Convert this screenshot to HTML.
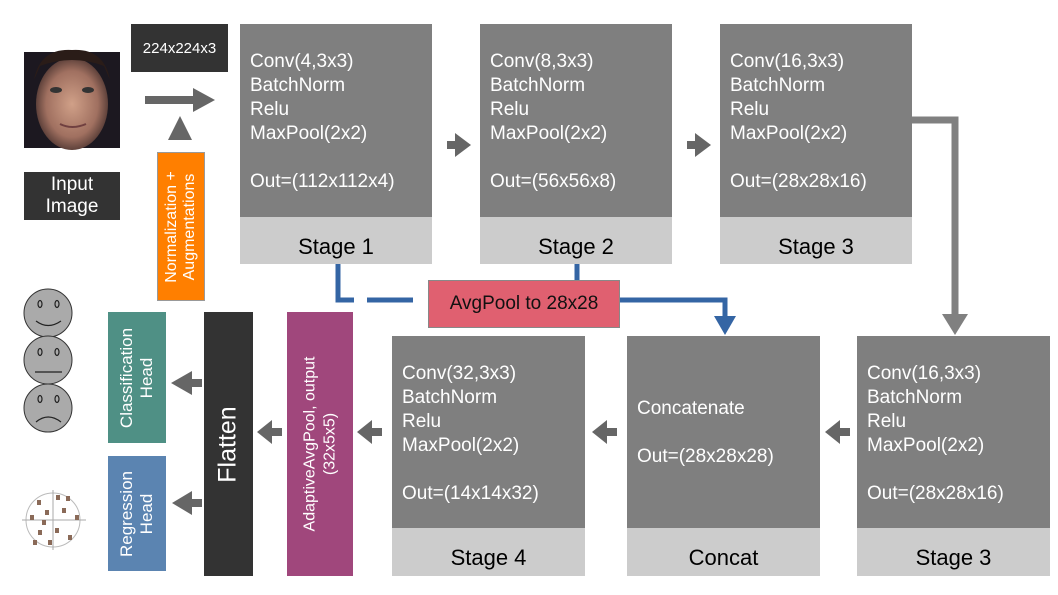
<!DOCTYPE html>
<html><head><meta charset="utf-8"><style>
body{margin:0;width:1058px;height:595px;background:#fff;position:relative;overflow:hidden;font-family:"Liberation Sans",sans-serif}
.a{position:absolute;box-sizing:border-box}
.st{background:#7f7f7f;color:#fff;font-size:19px;line-height:24px;padding:26px 0 0 10px}
.lb{background:#cccccc;color:#000;font-size:22px;text-align:center;line-height:47px;padding-top:6px}
.v{display:flex;align-items:center;justify-content:center;color:#fff;text-align:center}
.v span{transform:rotate(-90deg);white-space:nowrap}
</style></head><body>
<svg class="a" style="left:0;top:0" width="1058" height="595">
<defs><radialGradient id="f" cx="50%" cy="50%" r="60%"><stop offset="0" stop-color="#d0a088"/><stop offset="0.6" stop-color="#a07060"/><stop offset="1" stop-color="#302020"/></radialGradient></defs>
<rect x="24" y="52" width="96" height="96" fill="#1c1820"/>
<ellipse cx="72" cy="104" rx="36" ry="46" fill="url(#f)"/>
<path d="M34 80 Q40 48 72 50 Q104 48 110 80 L104 66 Q72 54 40 66Z" fill="#2a1c18"/>
<g fill="#333"><ellipse cx="56" cy="90" rx="6" ry="3"/><ellipse cx="88" cy="90" rx="6" ry="3"/></g>
<path d="M60 124 Q72 130 86 124" stroke="#704040" stroke-width="2" fill="none"/>
<g fill="#666">
<rect x="145" y="96" width="48" height="8"/><polygon points="193,88 215,100 193,112"/>
<polygon points="180,116 168,140 192,140"/>
<rect x="447" y="141" width="10" height="8"/><polygon points="455,133 471,145 455,157"/>
<rect x="687" y="141" width="10" height="8"/><polygon points="695,133 711,145 695,157"/>
<rect x="838" y="428" width="12" height="8"/><polygon points="840,420 825,432 840,444"/>
<rect x="605" y="428" width="12" height="8"/><polygon points="607,420 592,432 607,444"/>
<rect x="370" y="428" width="12" height="8"/><polygon points="372,420 357,432 372,444"/>
<rect x="270" y="428" width="12" height="8"/><polygon points="272,420 257,432 272,444"/>
<rect x="190" y="379" width="12" height="8"/><polygon points="192,371 171,383 192,395"/>
<rect x="190" y="499" width="12" height="8"/><polygon points="192,491 172,503 192,515"/>
</g>
<path d="M912 120 H955 V318" stroke="#808080" stroke-width="7" fill="none"/>
<polygon points="942,314 968,314 955,335" fill="#808080"/>
<g stroke="#3465a4" stroke-width="5" fill="none">
<path d="M338 264 V300 H354"/><path d="M367 300 H413"/>
<path d="M577 264 V280"/>
<path d="M620 300 H725 V318"/>
</g>
<polygon points="714,316 736,316 725,335" fill="#3465a4"/>
<g stroke="#333" stroke-width="1" fill="#aaa">
<circle cx="48" cy="313" r="24"/><circle cx="48" cy="360" r="24"/><circle cx="48" cy="408" r="24"/>
</g>
<g fill="none" stroke="#222" stroke-width="1.2">
<ellipse cx="40" cy="304" rx="2" ry="3.5"/><ellipse cx="57" cy="304" rx="2" ry="3.5"/>
<path d="M36 321 Q48 330 61 321"/>
<ellipse cx="40" cy="352" rx="2" ry="3.5"/><ellipse cx="57" cy="352" rx="2" ry="3.5"/>
<path d="M35 372 H62"/>
<ellipse cx="40" cy="399" rx="2" ry="3.5"/><ellipse cx="57" cy="399" rx="2" ry="3.5"/>
<path d="M36 422 Q48 412 61 422"/>
</g>
<circle cx="53" cy="520" r="27" fill="none" stroke="#bbb"/>
<path d="M22 520 H86 M53 490 V550" stroke="#aaa"/>
<g fill="#8a6a58"><rect x="37" y="500" width="4" height="5"/><rect x="56" y="495" width="4" height="5"/><rect x="30" y="515" width="4" height="5"/><rect x="45" y="510" width="4" height="5"/><rect x="62" y="508" width="4" height="5"/><rect x="75" y="515" width="4" height="5"/><rect x="38" y="530" width="4" height="5"/><rect x="55" y="528" width="4" height="5"/><rect x="68" y="535" width="4" height="5"/><rect x="48" y="540" width="4" height="5"/><rect x="33" y="540" width="4" height="5"/><rect x="66" y="496" width="4" height="5"/><rect x="42" y="520" width="4" height="5"/></g>
</svg>
<div class="a v" style="left:131px;top:24px;width:97px;height:48px;background:#333;font-size:15px">224x224x3</div>
<div class="a v" style="left:24px;top:172px;width:96px;height:48px;background:#333;font-size:19px;line-height:22px">Input<br>Image</div>
<div class="a v" style="left:157px;top:152px;width:48px;height:149px;background:#ff7f00;font-size:16px;line-height:18px;border:1px solid #999"><span>Normalization +<br>Augmentations</span></div>

<div class="a st" style="left:240px;top:24px;width:192px;height:193px">Conv(4,3x3)<br>BatchNorm<br>Relu<br>MaxPool(2x2)<br><br>Out=(112x112x4)</div>
<div class="a lb" style="left:240px;top:217px;width:192px;height:47px">Stage 1</div>
<div class="a st" style="left:480px;top:24px;width:192px;height:193px">Conv(8,3x3)<br>BatchNorm<br>Relu<br>MaxPool(2x2)<br><br>Out=(56x56x8)</div>
<div class="a lb" style="left:480px;top:217px;width:192px;height:47px">Stage 2</div>
<div class="a st" style="left:720px;top:24px;width:192px;height:193px">Conv(16,3x3)<br>BatchNorm<br>Relu<br>MaxPool(2x2)<br><br>Out=(28x28x16)</div>
<div class="a lb" style="left:720px;top:217px;width:192px;height:47px">Stage 3</div>

<div class="a v" style="left:428px;top:280px;width:192px;height:48px;background:#e06070;color:#111;font-size:19px;border:1px solid #888">AvgPool to 28x28</div>

<div class="a st" style="left:392px;top:336px;width:193px;height:192px">Conv(32,3x3)<br>BatchNorm<br>Relu<br>MaxPool(2x2)<br><br>Out=(14x14x32)</div>
<div class="a lb" style="left:392px;top:528px;width:193px;height:48px">Stage 4</div>
<div class="a st" style="left:627px;top:336px;width:193px;height:192px;padding-top:61px">Concatenate<br><br>Out=(28x28x28)</div>
<div class="a lb" style="left:627px;top:528px;width:193px;height:48px">Concat</div>
<div class="a st" style="left:857px;top:336px;width:193px;height:192px">Conv(16,3x3)<br>BatchNorm<br>Relu<br>MaxPool(2x2)<br><br>Out=(28x28x16)</div>
<div class="a lb" style="left:857px;top:528px;width:193px;height:48px">Stage 3</div>

<div class="a v" style="left:287px;top:312px;width:66px;height:264px;background:#a0477c;font-size:16px;line-height:20px"><span>AdaptiveAvgPool, output<br>(32x5x5)</span></div>
<div class="a v" style="left:204px;top:312px;width:49px;height:264px;background:#333;font-size:25px"><span>Flatten</span></div>
<div class="a v" style="left:108px;top:312px;width:58px;height:131px;background:#4f9085;font-size:17px;line-height:20px"><span>Classification<br>Head</span></div>
<div class="a v" style="left:108px;top:456px;width:58px;height:115px;background:#5b84b1;font-size:17px;line-height:20px"><span>Regression<br>Head</span></div>
</body></html>
